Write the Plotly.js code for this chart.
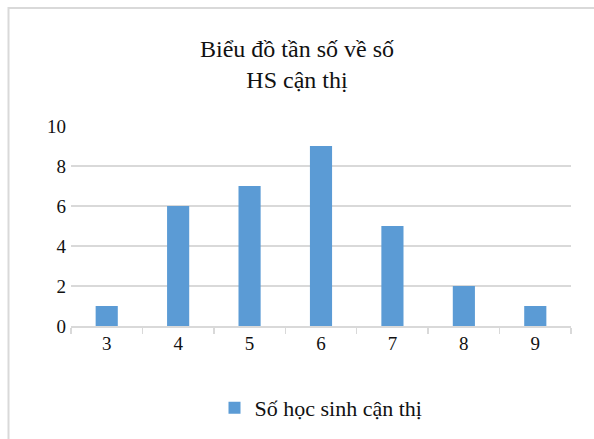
<!DOCTYPE html>
<html>
<head>
<meta charset="utf-8">
<script src="https://cdn.plot.ly/plotly-3.0.1.min.js"></script>
<style>
html,body{margin:0;padding:0;background:#fff;}
#chart{width:594px;height:439px;}
#fontprobe{position:absolute;left:0;top:0;font-family:"Liberation Serif";font-size:22px;color:#fff;opacity:0.01;pointer-events:none;}
</style>
</head>
<body>
<div id="fontprobe">Biểu đồ tần số về số HS cận thị 0123456789 Số học sinh</div>
<div id="chart"></div>
<script>
const categories = ["3", "4", "5", "6", "7", "8", "9"];
const values = [1, 6, 7, 9, 5, 2, 1];
const seriesName = "Số học sinh cận thị";
const titleText = "Biểu đồ tần số về số<br>HS cận thị";
const yTicks = [0, 2, 4, 6, 8, 10];

const serifFam = "Liberation Serif";
const L = 71, R = 571, T = 126, B = 327;
const pw = R - L, ph = B - T;

function draw() {
  return Plotly.react("chart", [{
    type: "bar",
    x: categories,
    y: values,
    name: seriesName,
    marker: {color: "#5B9BD5"},
    showlegend: true
  }], {
    width: 594, height: 439,
    margin: {l: L, r: 594 - R, t: T, b: 439 - B},
    paper_bgcolor: "#fff", plot_bgcolor: "#fff",
    bargap: 0.69,
    title: {text: titleText, font: {family: serifFam, size: 24, color: "#111"}, x: 0.5, xanchor: "center", y: 1 - 57 / 439, yanchor: "middle"},
    font: {family: serifFam, color: "#111"},
    xaxis: {
      type: "category",
      showline: true, linecolor: "#d9d9d9", linewidth: 1.5,
      ticks: "outside", tickson: "boundaries", ticklen: 6, tickcolor: "#d9d9d9", tickwidth: 1.5,
      tickfont: {family: serifFam, size: 19, color: "#111"},
      showgrid: false, zeroline: false
    },
    yaxis: {
      range: [0, 10], tickvals: yTicks, ticktext: yTicks.map(String),
      showgrid: true, gridcolor: "#d9d9d9", gridwidth: 1.5,
      zeroline: false, showline: false, ticks: "",
      tickfont: {family: serifFam, size: 19, color: "#111"},
      ticklabelstandoff: 4
    },
    legend: {
      orientation: "h", x: 0.5, xanchor: "center", y: (B - 408) / ph, yanchor: "middle",
      font: {family: serifFam, size: 22, color: "#111"}
    },
    shapes: [{
      type: "rect", xref: "paper", yref: "paper",
      x0: (8.5 - L) / pw, x1: (620 - L) / pw,
      y0: (B - 460) / ph, y1: (B - 7.5) / ph,
      line: {color: "#d9d9d9", width: 2}, fillcolor: "rgba(0,0,0,0)", layer: "below"
    }]
  }, {displayModeBar: false, staticPlot: true});
}
draw();
if (document.fonts && document.fonts.ready) {
  document.fonts.ready.then(() => { Plotly.purge("chart"); draw(); });
}
</script>
</body>
</html>
